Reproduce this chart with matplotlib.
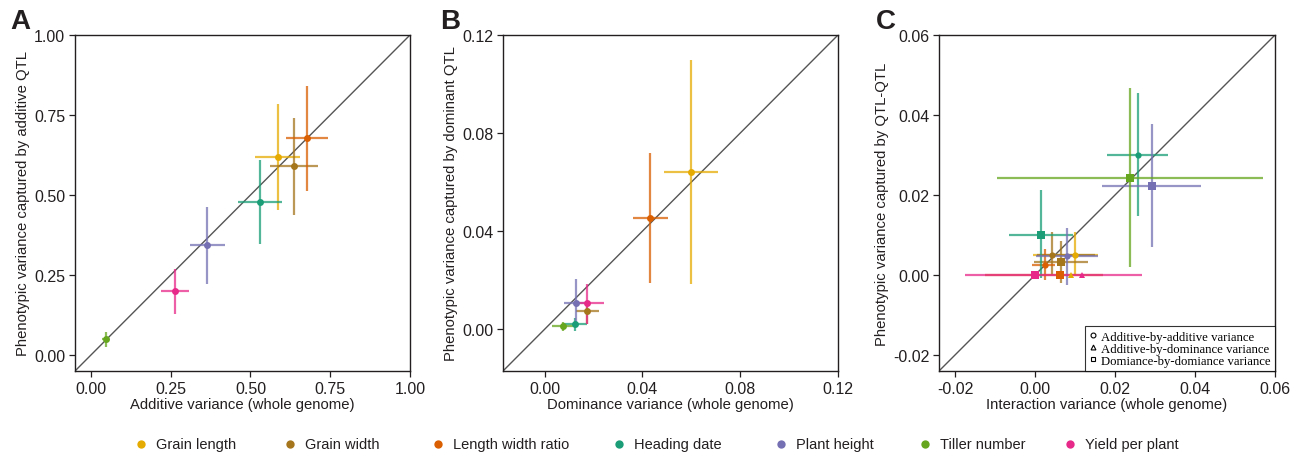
import matplotlib
matplotlib.use("Agg")
import matplotlib.pyplot as plt
from matplotlib.lines import Line2D
from matplotlib.ticker import FormatStrFormatter

plt.rcParams['font.family'] = ['Liberation Sans', 'DejaVu Sans']
plt.rcParams['axes.unicode_minus'] = False

traits = ['Grain length', 'Grain width', 'Length width ratio', 'Heading date',
          'Plant height', 'Tiller number', 'Yield per plant']
colors = ['#E6AB02', '#A6761D', '#D95F02', '#1B9E77', '#7570B3', '#66A61E', '#E7298A']

# Panel A: additive
a_x = [0.585, 0.636, 0.677, 0.529, 0.365, 0.046, 0.262]
a_xlo = [0.514, 0.561, 0.612, 0.461, 0.310, 0.034, 0.218]
a_xhi = [0.656, 0.713, 0.743, 0.598, 0.420, 0.058, 0.308]
a_y = [0.618, 0.590, 0.677, 0.478, 0.343, 0.049, 0.199]
a_ylo = [0.453, 0.438, 0.511, 0.348, 0.222, 0.026, 0.128]
a_yhi = [0.783, 0.740, 0.842, 0.608, 0.463, 0.071, 0.268]

# Panel B: dominance
b_x = [0.0598, 0.0173, 0.0431, 0.0124, 0.0127, 0.0076, 0.0175]
b_xlo = [0.0487, 0.0128, 0.0360, 0.0078, 0.0078, 0.0029, 0.0132]
b_xhi = [0.0711, 0.0222, 0.0504, 0.0173, 0.0173, 0.0124, 0.0242]
b_y = [0.0642, 0.0076, 0.0453, 0.0020, 0.0107, 0.0012, 0.0107]
b_ylo = [0.0185, 0.0020, 0.0189, -0.0007, 0.0020, -0.0007, 0.0020]
b_yhi = [0.1098, 0.0113, 0.0718, 0.0048, 0.0205, 0.0031, 0.0186]

# Panel C: interaction (type: AA circle, AD triangle, DD square)
c_trait = ['Grain length', 'Grain length', 'Grain width', 'Grain width',
           'Length width ratio', 'Length width ratio', 'Heading date', 'Heading date',
           'Plant height', 'Plant height', 'Tiller number', 'Yield per plant', 'Yield per plant']
c_type = ['AA', 'AD', 'AA', 'DD', 'AA', 'DD', 'AA', 'DD', 'AA', 'DD', 'DD', 'DD', 'AD']
c_x = [0.0101, 0.0091, 0.0043, 0.0065, 0.0025, 0.0062, 0.0257, 0.0015, 0.0081, 0.0292, 0.02375, 0.0000, 0.0117]
c_xlo = [-0.0004, 0.0086, 0.0005, -0.0003, -0.0007, -0.0125, 0.0180, -0.0064, 0.0003, 0.0168, -0.0094, -0.0175, 0.0112]
c_xhi = [0.0157, 0.0096, 0.0150, 0.0133, 0.0050, 0.0170, 0.0333, 0.0096, 0.0157, 0.0415, 0.0569, 0.0268, 0.0122]
c_y = [0.0051, 0.0000, 0.0051, 0.0033, 0.0026, 0.0000, 0.0301, 0.0101, 0.0047, 0.0223, 0.0243, 0.0000, 0.0000]
c_ylo = [0.0000, -0.0003, 0.0000, -0.0021, -0.0013, -0.0004, 0.0148, -0.0008, -0.0025, 0.0071, 0.0019, -0.0006, -0.0003]
c_yhi = [0.0107, 0.0003, 0.0108, 0.0086, 0.0065, 0.0004, 0.0455, 0.0213, 0.0117, 0.0377, 0.0468, 0.0006, 0.0003]

marker_of = {'AA': 'o', 'AD': '^', 'DD': 's'}
msize_of = {'AA': 4.5, 'AD': 5, 'DD': 6}
color_of = dict(zip(traits, colors))
TXT = '#231f20'

fig = plt.figure(figsize=(12.97, 4.56), dpi=100)
W, H = 1297, 456
def rect(l, t, r, b):
    return [l / W, 1 - b / H, (r - l) / W, (b - t) / H]

axA = fig.add_axes(rect(75, 36, 410, 372))
axB = fig.add_axes(rect(503, 36, 838, 372))
axC = fig.add_axes(rect(939, 36, 1275, 372))

def style(ax, lim, ticks, fmt, xlabel, ylabel):
    ax.set_xlim(lim)
    ax.set_ylim(lim)
    ax.plot(lim, lim, color='#555555', lw=1.0, zorder=1)
    ax.set_xticks(ticks)
    ax.set_yticks(ticks)
    ax.xaxis.set_major_formatter(FormatStrFormatter(fmt))
    ax.yaxis.set_major_formatter(FormatStrFormatter(fmt))
    ax.tick_params(direction='out', length=4, width=0.9, colors=TXT, labelsize=11.5, pad=3)
    for s in ax.spines.values():
        s.set_color(TXT)
        s.set_linewidth(1.0)
    ax.set_xlabel(xlabel, fontsize=10.7, color=TXT, labelpad=1)
    ax.set_ylabel(ylabel, fontsize=10.7, color=TXT, labelpad=3)

def draw(ax, xs, xlo, xhi, ys, ylo, yhi, cols, markers, sizes):
    for x, x0, x1, y, y0, y1, c, m, s in zip(xs, xlo, xhi, ys, ylo, yhi, cols, markers, sizes):
        ax.plot([x0, x1], [y, y], color=c, lw=1.6, alpha=0.75, solid_capstyle='butt', zorder=2)
        ax.plot([x, x], [y0, y1], color=c, lw=1.6, alpha=0.75, solid_capstyle='butt', zorder=2)
        ax.plot([x], [y], marker=m, color=c, ms=s, mew=0, linestyle='none', zorder=3)

draw(axA, a_x, a_xlo, a_xhi, a_y, a_ylo, a_yhi, colors, ['o'] * 7, [5] * 7)
draw(axB, b_x, b_xlo, b_xhi, b_y, b_ylo, b_yhi, colors, ['o'] * 7, [5] * 7)
draw(axC, c_x, c_xlo, c_xhi, c_y, c_ylo, c_yhi,
     [color_of[t] for t in c_trait], [marker_of[t] for t in c_type], [msize_of[t] for t in c_type])

style(axA, (-0.05, 1.0), [0, 0.25, 0.5, 0.75, 1.0], '%.2f',
      'Additive variance (whole genome)', 'Phenotypic variance captured by additive QTL')
style(axB, (-0.017, 0.12), [0, 0.04, 0.08, 0.12], '%.2f',
      'Dominance variance (whole genome)', 'Phenotypic variance captured by dominant QTL')
style(axC, (-0.024, 0.06), [-0.02, 0, 0.02, 0.04, 0.06], '%.2f',
      'Interaction variance (whole genome)', 'Phenotypic variance captured by QTL-QTL')

# inner legend of panel C
handles = [Line2D([], [], marker='o', color='black', mfc='none', ms=3.5, mew=0.8, linestyle='none'),
           Line2D([], [], marker='^', color='black', mfc='none', ms=3.5, mew=0.8, linestyle='none'),
           Line2D([], [], marker='s', color='black', mfc='none', ms=3.5, mew=0.8, linestyle='none')]
leg = axC.legend(handles, ['Additive-by-additive variance', 'Additive-by-dominance variance',
                           'Domiance-by-domiance variance'],
                 loc='lower right', bbox_to_anchor=(1.0, 0.0), frameon=True, fancybox=False,
                 prop={'family': ['Liberation Serif', 'DejaVu Serif'], 'size': 9.2},
                 handlelength=0.6, handletextpad=0.3, labelspacing=0.0, borderpad=0.35,
                 borderaxespad=0.0)
leg.get_frame().set_edgecolor('black')
leg.get_frame().set_linewidth(0.8)

# panel letters
for txt, x in [('A', 10), ('B', 440), ('C', 876)]:
    fig.text(x / W, 1 - 22 / H, txt, fontsize=20, fontweight='bold', color=TXT, va='center', ha='left')

# bottom legend
leg_x = [141, 290, 438, 619, 781, 925, 1070]
for t, c, x in zip(traits, colors, leg_x):
    fig.add_artist(Line2D([x / W], [1 - 445 / H], marker='o', color=c, ms=6, mew=0,
                          linestyle='none', transform=fig.transFigure))
    fig.text((x + 15) / W, 1 - 445 / H, t, fontsize=10.5, color=TXT, va='center', ha='left')

fig.savefig('out.png', dpi=100)
